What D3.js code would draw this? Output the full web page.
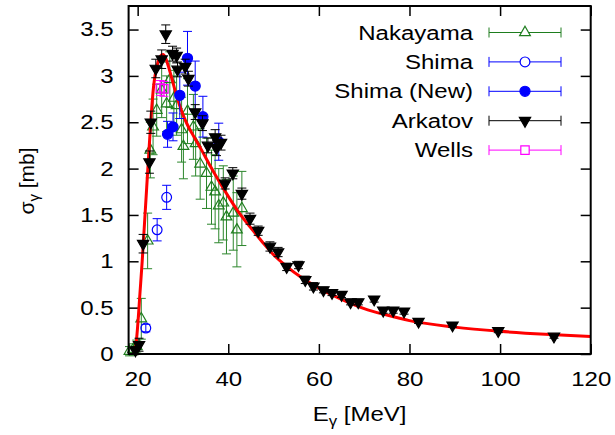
<!DOCTYPE html>
<html>
<head>
<meta charset="utf-8">
<script src="https://cdn.jsdelivr.net/npm/d3@7"></script>
<style>
  body { margin: 0; background: #fff; }
  svg { display: block; }
  text { font-family: "Liberation Sans", Arial, sans-serif; }
</style>
</head>
<body>
<div id="chart"></div>
<script>
// [E (MeV), sigma (mb), error]
const nakayama = [
    [18.2, 0.03, 0.05], [19.0, 0.05, 0.06], [19.8, 0.08, 0.07], [20.8, 0.38, 0.22],
    [22.2, 1.22, 0.3], [22.8, 2.2, 0.3], [23.4, 2.45, 0.3], [24.2, 2.63, 0.28],
    [25.3, 2.85, 0.3], [26.4, 2.7, 0.3], [27.1, 2.96, 0.3], [28.0, 2.76, 0.3],
    [28.6, 2.68, 0.32], [29.7, 2.42, 0.35], [30.1, 2.24, 0.35], [31.0, 2.62, 0.35],
    [32.3, 2.45, 0.35], [32.8, 2.27, 0.35], [33.8, 2.05, 0.38], [35.2, 1.95, 0.38],
    [36.3, 1.8, 0.4], [37.1, 1.75, 0.4], [37.9, 1.6, 0.4], [38.9, 1.63, 0.4],
    [39.6, 1.48, 0.4], [41.1, 1.52, 0.4], [41.9, 1.34, 0.4], [43.0, 1.57, 0.4]
];
const shima = [[21.8, 0.28, 0.04], [24.3, 1.34, 0.12], [26.4, 1.69, 0.13]];
const shimaNew = [
    [26.6, 2.37, 0.14], [27.8, 2.45, 0.15], [29.3, 2.79, 0.25], [31.0, 3.19, 0.29],
    [32.7, 2.89, 0.27], [34.4, 2.56, 0.22], [37.9, 2.29, 0.2]
];
const arkatov = [
    [19.5, 0.04, 0.04], [20.3, 0.1, 0.07], [21.2, 1.19, 0.1], [22.6, 2.07, 0.12],
    [22.9, 2.5, 0.12], [24.0, 3.08, 0.1], [25.3, 3.18, 0.1], [26.2, 3.45, 0.1],
    [27.7, 3.24, 0.08], [28.6, 3.22, 0.08], [28.8, 3.07, 0.08], [30.5, 3.1, 0.08],
    [31.2, 2.97, 0.08], [32.7, 2.61, 0.08], [34.3, 2.49, 0.08], [35.5, 2.25, 0.08],
    [37.1, 2.34, 0.08], [37.4, 2.22, 0.08], [38.4, 2.28, 0.08], [39.3, 1.84, 0.06],
    [41.0, 1.95, 0.06], [43.0, 1.73, 0.06], [44.8, 1.46, 0.06], [46.6, 1.33, 0.05],
    [49.2, 1.16, 0.05], [51.0, 1.10, 0.05], [52.9, 0.94, 0.04], [55.5, 0.96, 0.04],
    [57.0, 0.80, 0.04], [58.8, 0.73, 0.04], [61.0, 0.69, 0.03], [62.9, 0.66, 0.03],
    [65.0, 0.64, 0.03], [67.0, 0.56, 0.03], [68.7, 0.56, 0.03], [72.2, 0.59, 0.03],
    [74.2, 0.47, 0.03], [76.4, 0.47, 0.03], [78.8, 0.46, 0.03], [82.0, 0.35, 0.02],
    [89.5, 0.31, 0.02], [99.6, 0.25, 0.02], [111.9, 0.19, 0.02]
];
const wells = [[25.0, 2.87, 0.08], [25.8, 2.86, 0.08]];
// theory curve [E, sigma]
const theory = [
    [19.1, 0.0], [19.5, 0.05], [20.0, 0.3], [20.5, 0.65], [21.0, 1.0], [21.5, 1.4],
    [22.0, 1.8], [22.5, 2.2], [23.0, 2.58], [23.5, 2.88], [24.0, 3.05], [24.5, 3.15],
    [25.0, 3.21], [25.6, 3.23], [26.2, 3.19], [26.8, 3.1], [27.5, 2.98], [28.5, 2.8],
    [29.7, 2.62], [31.0, 2.47], [32.0, 2.38], [34.0, 2.21], [36.0, 2.03], [38.0, 1.86],
    [40.0, 1.70], [42.0, 1.55], [44.0, 1.42], [46.0, 1.30], [48.0, 1.18], [50.0, 1.07],
    [53.0, 0.94], [56.0, 0.83], [60.0, 0.71], [65.0, 0.59], [70.0, 0.49], [75.0, 0.42],
    [80.0, 0.36], [90.0, 0.29], [100.0, 0.245], [110.0, 0.213], [120.0, 0.19]
];
const xTicks = [20, 40, 60, 80, 100, 120];
const yTicks = [0, 0.5, 1, 1.5, 2, 2.5, 3, 3.5];
const legendNames = ["Nakayama", "Shima", "Shima (New)", "Arkatov", "Wells"];

const width = 615, height = 435;
const margin = {top: 6, right: 24.3, bottom: 81, left: 128.6};
const innerWidth = width - margin.left - margin.right;
const innerHeight = height - margin.top - margin.bottom;
const stretch = 1.2;
const fontSize = 20;

const svg = d3.select("#chart")
    .append("svg")
    .attr("width", width)
    .attr("height", height);

const inner = svg.append("g")
    .attr("transform", `translate(${margin.left},${margin.top})`);

const xScale = d3.scaleLinear().domain([18, 120]).range([0, innerWidth]);
const yScale = d3.scaleLinear().domain([0, 3.754]).range([innerHeight, 0]);

// the reference text is a bit wider than the font, so stretch the glyphs
const widen = sel => sel.each(function () {
    const w = this.getComputedTextLength();
    d3.select(this)
        .attr("textLength", w * stretch)
        .attr("lengthAdjust", "spacingAndGlyphs");
});

const styleAxis = g => {
    g.select(".domain").remove();
    g.selectAll(".tick line").attr("stroke", "#000").attr("stroke-width", 1.5);
    g.selectAll("text").attr("font-size", fontSize).attr("fill", "#000")
        .attr("font-family", "Liberation Sans, Arial, sans-serif");
};

inner.append("g")
    .attr("transform", `translate(0,${innerHeight})`)
    .call(d3.axisBottom(xScale).tickValues(xTicks).tickSize(-10).tickPadding(18))
    .call(styleAxis)
    .call(g => g.selectAll("text").call(widen));
// mirrored ticks on top and right, no labels
inner.append("g")
    .call(d3.axisTop(xScale).tickValues(xTicks).tickSize(-10))
    .call(styleAxis)
    .call(g => g.selectAll("text").remove());
inner.append("g")
    .call(d3.axisLeft(yScale).tickValues(yTicks).tickSize(-10).tickPadding(15).tickFormat(d3.format("")))
    .call(styleAxis)
    .call(g => g.selectAll("text").call(widen));
inner.append("g")
    .attr("transform", `translate(${innerWidth},0)`)
    .call(d3.axisRight(yScale).tickValues(yTicks).tickSize(-10))
    .call(styleAxis)
    .call(g => g.selectAll("text").remove());

// data series
const drawSeries = (data, color, barColor, symbol, filled, rotate) => {
    const g = inner.append("g");
    const cap = 4.5;
    const bars = g.selectAll(".bar").data(data).join("g")
        .attr("stroke", barColor).attr("stroke-width", 1);
    bars.append("line")
        .attr("x1", d => xScale(d[0])).attr("x2", d => xScale(d[0]))
        .attr("y1", d => yScale(d[1] - d[2])).attr("y2", d => yScale(d[1] + d[2]));
    bars.append("line")
        .attr("x1", d => xScale(d[0]) - cap).attr("x2", d => xScale(d[0]) + cap)
        .attr("y1", d => yScale(d[1] - d[2])).attr("y2", d => yScale(d[1] - d[2]));
    bars.append("line")
        .attr("x1", d => xScale(d[0]) - cap).attr("x2", d => xScale(d[0]) + cap)
        .attr("y1", d => yScale(d[1] + d[2])).attr("y2", d => yScale(d[1] + d[2]));
    g.selectAll(".pt").data(data).join("path")
        .attr("d", symbol)
        .attr("transform", d => `translate(${xScale(d[0])},${yScale(d[1])}) rotate(${rotate})`)
        .attr("fill", filled ? color : "none")
        .attr("stroke", color)
        .attr("stroke-width", 1.2);
};

const triUp = d3.symbol(d3.symbolTriangle, 50)();
const triDown = d3.symbol(d3.symbolTriangle, 55)();
const circle = d3.symbol(d3.symbolCircle, 80)();
const circleOpen = d3.symbol(d3.symbolCircle, 75)();
const square = d3.symbol(d3.symbolSquare, 70)();

drawSeries(nakayama, "#1e7d1e", "#2b862b", triUp, false, 0);

const line = d3.line()
    .x(d => xScale(d[0]))
    .y(d => yScale(d[1]))
    .curve(d3.curveMonotoneX);
inner.append("path")
    .datum(theory)
    .attr("fill", "none")
    .attr("stroke", "#ff0000")
    .attr("stroke-width", 3)
    .attr("d", line);

drawSeries(shima, "#0000ff", "#0000ff", circleOpen, false, 0);
drawSeries(shimaNew, "#0000ff", "#0000ff", circle, true, 0);
drawSeries(arkatov, "#000", "#000", triDown, true, 180);
drawSeries(wells, "#ff00ff", "#ff00ff", square, false, 0);

// frame
inner.append("rect")
    .attr("width", innerWidth).attr("height", innerHeight)
    .attr("fill", "none").attr("stroke", "#000").attr("stroke-width", 2);

// legend
const legendItems = [
    {color: "#1e7d1e", sym: triUp, filled: false, rot: 0},
    {color: "#0000ff", sym: circleOpen, filled: false, rot: 0},
    {color: "#0000ff", sym: circle, filled: true, rot: 0},
    {color: "#000", sym: triDown, filled: true, rot: 180},
    {color: "#ff00ff", sym: square, filled: false, rot: 0}
];
const legend = svg.append("g");
legendNames.forEach((name, i) => {
    const ly = 32.5 + i * 29.4;
    const it = legendItems[i];
    const row = legend.append("g");
    row.append("text")
        .attr("x", 473).attr("y", ly + 7)
        .attr("text-anchor", "end")
        .attr("font-size", fontSize)
        .text(name)
        .call(widen);
    const ls = row.append("g").attr("stroke", it.color).attr("stroke-width", 1);
    ls.append("line").attr("x1", 489).attr("x2", 561).attr("y1", ly).attr("y2", ly);
    ls.append("line").attr("x1", 489).attr("x2", 489).attr("y1", ly - 5).attr("y2", ly + 5);
    ls.append("line").attr("x1", 561).attr("x2", 561).attr("y1", ly - 5).attr("y2", ly + 5);
    row.append("path")
        .attr("d", it.sym)
        .attr("transform", `translate(525,${ly}) rotate(${it.rot})`)
        .attr("fill", it.filled ? it.color : "#fff")
        .attr("stroke", it.color)
        .attr("stroke-width", 1.2);
});

// axis labels
const xLabel = svg.append("text")
    .attr("text-anchor", "middle")
    .attr("font-size", fontSize)
    .attr("x", margin.left + innerWidth / 2)
    .attr("y", 421);
xLabel.append("tspan").text("E");
xLabel.append("tspan").attr("font-size", 14).attr("dy", 5).text("γ");
xLabel.append("tspan").attr("dy", -5).text(" [MeV]");
xLabel.call(widen);

const yLabel = svg.append("text")
    .attr("text-anchor", "middle")
    .attr("font-size", 21)
    .attr("transform", "translate(34,181) rotate(-90)");
yLabel.append("tspan").text("σ");
yLabel.append("tspan").attr("font-size", 15).attr("dy", 5).text("γ");
yLabel.append("tspan").attr("dy", -5).text(" [mb]");
</script>
</body>
</html>
